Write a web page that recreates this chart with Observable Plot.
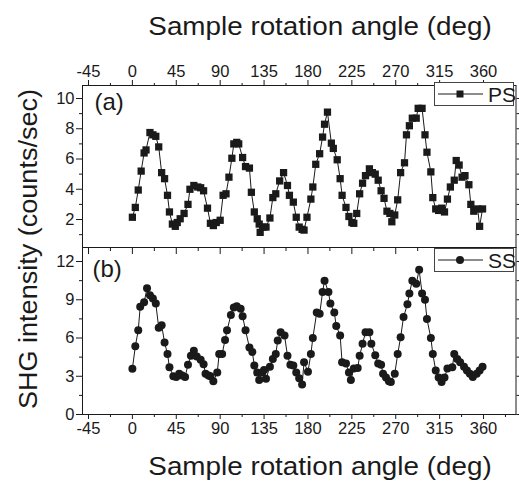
<!DOCTYPE html>
<html>
<head>
<meta charset="utf-8">
<script src="https://cdn.jsdelivr.net/npm/d3@7"></script>
<script src="https://cdn.jsdelivr.net/npm/@observablehq/plot@0.6"></script>
<style>
  html, body { margin: 0; padding: 0; background: #fff; }
  #wrap { position: relative; width: 519px; height: 484px; overflow: hidden;
          font-family: "Liberation Sans", Arial, Helvetica, sans-serif; color: #1a1a1a; }
  .abs { position: absolute; }
  .title { font-size: 26px; line-height: 1; white-space: nowrap; }
  .legend { position: absolute; border: 1px solid #444; background: #fff; box-sizing: border-box; }
</style>
</head>
<body>
<div id="wrap"></div>
<script>
// ---------- data ----------
const xTitle = "Sample rotation angle (deg)";
const yTitle = "SHG intensity (counts/sec)";
const seriesNames = ["PS", "SS"];
const panelTags = ["(a)", "(b)"];

const xTicks = [-45, 0, 45, 90, 135, 180, 225, 270, 315, 360];
const xMinor = [-22.5, 22.5, 67.5, 112.5, 157.5, 202.5, 247.5, 292.5, 337.5, 382.5];
const psTicks = [2, 4, 6, 8, 10];
const psMinor = [1, 3, 5, 7, 9];
const ssTicks = [0, 3, 6, 9, 12];
const ssMinor = [1.5, 4.5, 7.5, 10.5];

const psAngle = [0,3,6,9,12,14,18,21,24,27,30,33,36,38,41,44,46,49,53,57,59,63,67,70,73,77,80,83,86,90,
  93,96,99,102,104,107,109,113,116,120,122,125,128,130,131,134,137,141,144,147,151,155,159,161,165,168,171,174,176,179,
  183,185,188,192,195,197,200,204,206,210,213,215,219,222,225,227,230,233,236,239,243,246,249,252,255,258,261,264,266,269,
  272,275,279,281,284,287,291,293,297,300,302,306,308,311,314,317,320,323,326,330,332,335,338,341,345,347,350,354,356,359];
const psValue = [2.15,2.8,3.95,5.2,6.4,6.6,7.75,7.6,7.5,6.8,5.1,4.7,3.6,2.5,1.7,1.55,1.8,2.05,2.4,3.0,4.0,4.25,4.15,4.1,3.9,2.75,1.75,1.6,1.8,1.95,
  3.6,3.7,4.8,6.05,7.0,7.1,7.0,6.1,5.5,5.4,3.8,2.5,2.05,1.7,1.15,1.5,1.5,2.1,3.45,3.7,4.55,5.1,4.25,3.6,3.15,2.15,1.5,1.35,1.3,2.15,
  3.35,4.15,5.65,6.35,7.45,8.3,9.1,7.05,6.7,5.95,4.7,3.6,2.8,2.2,1.8,1.75,2.4,3.7,4.4,4.9,5.35,5.1,5.0,4.6,3.9,3.4,2.55,2.4,1.85,2.3,
  3.3,5.1,5.75,7.6,8.2,8.7,8.7,9.35,9.35,7.6,6.45,5.15,3.45,2.7,2.6,2.75,2.5,3.35,4.15,4.6,5.9,5.6,4.8,4.9,4.3,3.0,2.55,2.7,1.55,2.7];

const ssAngle = [0,3,6,8,12,15,18,21,24,27,30,33,36,38,42,45,48,51,54,57,60,63,66,70,73,75,78,80,83,87,
  89,92,95,97,101,104,107,111,113,116,120,123,125,128,130,133,135,137,141,144,147,149,152,156,159,162,165,168,171,174,
  176,180,183,185,189,192,195,197,201,203,207,209,213,215,219,222,224,227,231,233,236,239,243,245,249,252,255,257,260,263,
  265,269,272,275,278,282,284,287,291,294,297,300,302,306,308,311,314,317,320,323,328,330,333,336,340,343,346,349,353,356,359];
const ssValue = [3.58,5.35,6.6,8.45,8.8,9.9,9.35,9.1,8.7,6.8,7.0,5.65,4.75,3.7,3.0,2.95,3.2,3.05,2.95,3.9,4.6,5.0,4.55,4.3,3.95,3.2,3.05,3.0,2.6,3.3,
  4.75,4.75,5.85,6.6,7.8,8.4,8.5,8.3,7.7,6.6,5.25,4.9,3.85,3.3,2.7,3.3,3.5,2.8,3.75,4.35,4.75,5.8,6.45,6.2,4.6,3.9,3.85,3.3,2.85,2.35,
  4.1,3.35,4.75,6.0,8.0,7.9,9.6,10.5,9.6,8.7,8.0,6.95,6.2,4.1,4.0,3.3,2.7,3.6,3.65,4.6,5.55,6.45,6.45,5.55,4.65,4.0,3.9,3.2,2.9,2.6,
  2.55,3.2,4.75,6.05,7.65,8.65,9.5,10.5,10.25,11.35,9.5,9.0,7.5,6.0,4.75,3.45,2.9,2.55,2.9,3.6,3.7,4.75,4.35,4.1,3.75,3.45,3.2,2.95,3.2,3.45,3.75];

// ---------- build ----------
const ink = "#1a1a1a";
const font = "'Liberation Sans', Arial, Helvetica, sans-serif";
const psData = psAngle.map((a, i) => ({angle: a, value: psValue[i]}));
const ssData = ssAngle.map((a, i) => ({angle: a, value: ssValue[i]}));
const xDomain = [-51.15, 393.3];
const blank = () => "";

const topPlot = Plot.plot({
  width: 519, height: 247,
  marginTop: 85, marginBottom: 0, marginLeft: 82, marginRight: 3.5,
  style: {fontFamily: font, fontSize: "16.5px", color: ink, background: "transparent", overflow: "visible"},
  x: {domain: xDomain},
  y: {domain: [0.15, 10.86]},
  marks: [
    Plot.axisX({anchor: "top", ticks: xTicks, tickSize: 6, tickPadding: 3, label: null, tickFormat: d => String(d)}),
    Plot.axisX({anchor: "top", ticks: xMinor, tickSize: 3, label: null, tickFormat: blank}),
    Plot.axisY({anchor: "left", ticks: psTicks, tickSize: 6, tickPadding: 2, label: null, tickFormat: d => String(d)}),
    Plot.axisY({anchor: "left", ticks: psMinor, tickSize: 3, label: null, tickFormat: blank}),
    Plot.axisY({anchor: "right", ticks: psTicks, tickSize: 5, label: null, tickFormat: blank}),
    Plot.axisY({anchor: "right", ticks: psMinor, tickSize: 3, label: null, tickFormat: blank}),
    Plot.frame({stroke: ink, strokeWidth: 1}),
    Plot.line(psData, {x: "angle", y: "value", stroke: ink, strokeWidth: 1}),
    Plot.dot(psData, {x: "angle", y: "value", symbol: "square", r: 4.1, fill: ink, stroke: "none"}),
    Plot.text([panelTags[0]], {text: d => d, frameAnchor: "top-left", dx: 12, dy: 7, textAnchor: "start", lineAnchor: "top", fontSize: 24, fill: ink})
  ]
});

const botPlot = Plot.plot({
  width: 519, height: 237,
  marginTop: 0, marginBottom: 70, marginLeft: 82, marginRight: 3.5,
  style: {fontFamily: font, fontSize: "16.5px", color: ink, background: "transparent", overflow: "visible"},
  x: {domain: xDomain},
  y: {domain: [0, 13.1]},
  marks: [
    Plot.axisX({anchor: "bottom", ticks: xTicks, tickSize: 5, tickPadding: 3, label: null, tickFormat: d => String(d)}),
    Plot.axisX({anchor: "bottom", ticks: xMinor, tickSize: 3, label: null, tickFormat: blank}),
    Plot.axisX({anchor: "top", ticks: xTicks, tickSize: -6, label: null, tickFormat: blank}),
    Plot.axisX({anchor: "top", ticks: xMinor, tickSize: -3, label: null, tickFormat: blank}),
    Plot.axisY({anchor: "left", ticks: ssTicks, tickSize: 6, tickPadding: 2, label: null, tickFormat: d => String(d)}),
    Plot.axisY({anchor: "left", ticks: ssMinor, tickSize: 3, label: null, tickFormat: blank}),
    Plot.axisY({anchor: "right", ticks: ssTicks, tickSize: 5, label: null, tickFormat: blank}),
    Plot.axisY({anchor: "right", ticks: ssMinor, tickSize: 3, label: null, tickFormat: blank}),
    Plot.frame({stroke: ink, strokeWidth: 1}),
    Plot.line(ssData, {x: "angle", y: "value", stroke: ink, strokeWidth: 1}),
    Plot.dot(ssData, {x: "angle", y: "value", symbol: "circle", r: 4, fill: ink, stroke: "none"}),
    Plot.text([panelTags[1]], {text: d => d, frameAnchor: "top-left", dx: 10, dy: 12, textAnchor: "start", lineAnchor: "top", fontSize: 24, fill: ink})
  ]
});

const wrap = document.getElementById("wrap");
topPlot.style.position = "absolute"; topPlot.style.left = "0px"; topPlot.style.top = "0px";
botPlot.style.position = "absolute"; botPlot.style.left = "0px"; botPlot.style.top = "247px";
wrap.appendChild(topPlot);
wrap.appendChild(botPlot);

function addDiv(text, css) {
  const d = document.createElement("div");
  d.textContent = text;
  d.className = "abs title";
  Object.assign(d.style, css);
  wrap.appendChild(d);
  return d;
}
// axis titles
addDiv(xTitle, {left: "320px", top: "13px", transform: "translateX(-50%) scaleX(1.07)"});
addDiv(xTitle, {left: "320px", top: "453px", transform: "translateX(-50%) scaleX(1.07)"});
addDiv(yTitle, {left: "28px", top: "249px", transform: "translate(-50%,-50%) rotate(-90deg) scaleX(1.04)"});

// legends
function legend(name, symbol, top) {
  const box = document.createElement("div");
  box.className = "legend";
  Object.assign(box.style, {left: "434px", top: top + "px", width: "80px", height: "24px"});
  const ns = "http://www.w3.org/2000/svg";
  const svg = document.createElementNS(ns, "svg");
  svg.setAttribute("width", "50"); svg.setAttribute("height", "22");
  Object.assign(svg.style, {position: "absolute", left: "1px", top: "0px"});
  const ln = document.createElementNS(ns, "line");
  ln.setAttribute("x1", "2"); ln.setAttribute("x2", "47"); ln.setAttribute("y1", "11"); ln.setAttribute("y2", "11");
  ln.setAttribute("stroke", ink); ln.setAttribute("stroke-width", "1");
  svg.appendChild(ln);
  let m;
  if (symbol === "square") {
    m = document.createElementNS(ns, "rect");
    m.setAttribute("x", "20.5"); m.setAttribute("y", "7.5"); m.setAttribute("width", "7"); m.setAttribute("height", "7");
  } else {
    m = document.createElementNS(ns, "circle");
    m.setAttribute("cx", "24"); m.setAttribute("cy", "11"); m.setAttribute("r", "4");
  }
  m.setAttribute("fill", ink);
  svg.appendChild(m);
  box.appendChild(svg);
  const t = document.createElement("div");
  t.textContent = name;
  Object.assign(t.style, {position: "absolute", left: "53px", top: "1px", fontSize: "21px", lineHeight: "22px", color: ink});
  box.appendChild(t);
  wrap.appendChild(box);
}
legend(seriesNames[0], "square", 82);
legend(seriesNames[1], "circle", 248);
</script>
</body>
</html>
